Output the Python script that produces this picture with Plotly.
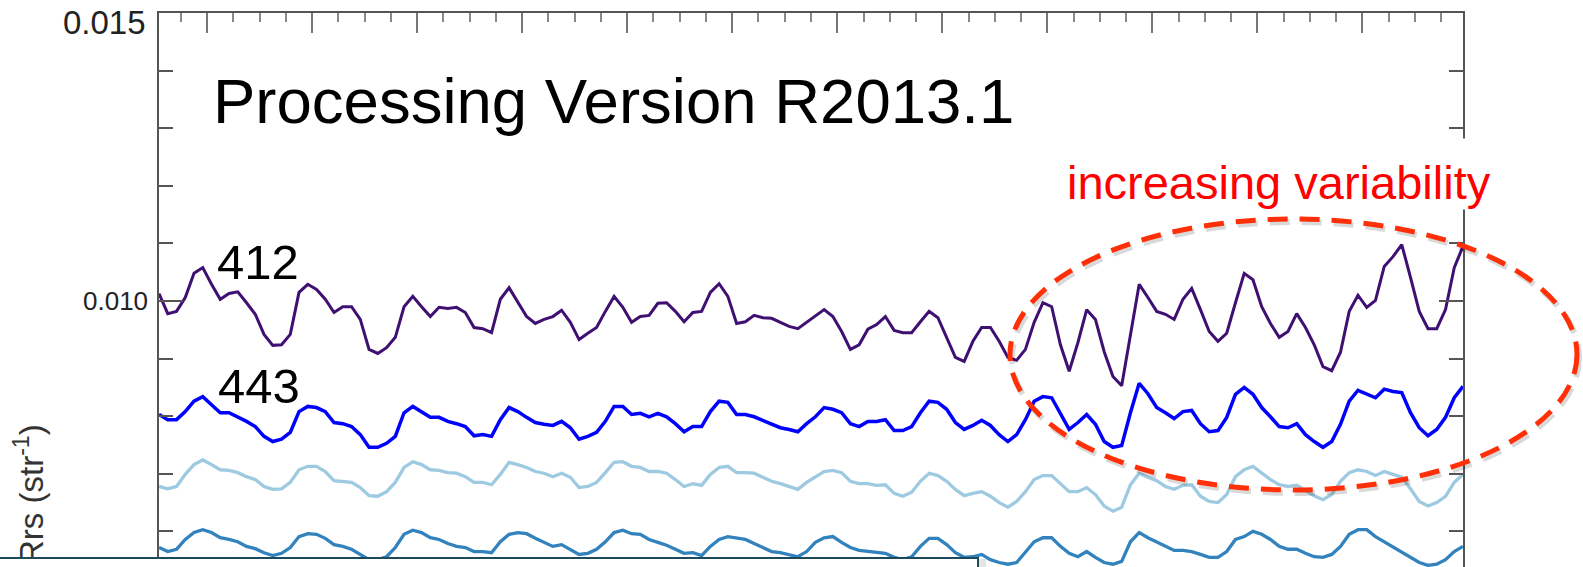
import numpy as np
import plotly.graph_objects as go

# ---------------- data (Rrs in units of 1e-3 sr^-1), monthly from Jul 2002 ----------------
month_index = list(range(150))
decimal_year = [2002 + (m + 6.5) / 12.0 for m in month_index]

rrs412 = [10.13, 9.78, 9.82, 10.06, 10.48, 10.58, 10.29, 10.03, 10.13, 10.16, 9.97, 9.77, 9.42, 9.23, 9.24, 9.42,
          10.15, 10.29, 10.20, 10.03, 9.80, 9.90, 9.90, 9.68, 9.16, 9.09, 9.19, 9.37, 9.90, 10.08, 9.90, 9.73,
          9.89, 9.87, 9.89, 9.80, 9.54, 9.52,
          9.45, 10.03, 10.23, 9.99, 9.73, 9.61, 9.68, 9.73, 9.84, 9.63, 9.33, 9.44, 9.54, 9.82, 10.08, 9.89,
          9.63, 9.73, 9.75, 9.96, 9.97, 9.82, 9.64, 9.80, 9.82, 10.15, 10.30, 10.08, 9.61, 9.64, 9.75, 9.71,
          9.70, 9.63, 9.56, 9.52, 9.63,
          9.73, 9.85, 9.73, 9.47, 9.16, 9.24, 9.51, 9.59, 9.73, 9.49, 9.45, 9.45, 9.64, 9.82, 9.71, 9.37,
          9.02, 8.95, 9.30, 9.54, 9.54, 9.30, 9.02, 8.97, 9.16, 9.63, 9.97, 9.90, 9.24, 8.78, 9.28, 9.85,
          9.68, 9.12, 8.69, 8.53, 9.40,
          10.29, 10.06, 9.82, 9.77, 9.68, 10.03, 10.22, 9.85, 9.47, 9.30, 9.44, 9.97, 10.48, 10.37, 9.90, 9.61,
          9.37, 9.47, 9.78, 9.54, 9.24, 8.86, 8.79, 9.11, 9.82, 10.10, 9.89, 10.01, 10.60, 10.77, 10.98, 10.41,
          9.82, 9.52, 9.52, 9.85, 10.58, 10.95]

rrs443 = [8.03, 7.94, 7.94, 8.08, 8.26, 8.34, 8.20, 8.06, 8.06, 7.99, 7.91, 7.82, 7.65, 7.56, 7.60, 7.72,
          8.08, 8.17, 8.15, 8.08, 7.89, 7.87, 7.82, 7.68, 7.46, 7.46, 7.53, 7.65, 8.06, 8.17, 8.08, 7.98,
          7.98, 7.91, 7.87, 7.82, 7.66, 7.68,
          7.65, 7.94, 8.15, 8.08, 7.98, 7.89, 7.86, 7.84, 7.91, 7.80, 7.60, 7.65, 7.72, 7.91, 8.17, 8.17,
          8.03, 8.05, 7.99, 8.05, 7.99, 7.87, 7.73, 7.82, 7.82, 8.08, 8.26, 8.24, 8.03, 8.03, 7.99, 7.93,
          7.86, 7.80, 7.77, 7.73, 7.87,
          7.99, 8.15, 8.12, 8.06, 7.87, 7.82, 7.91, 7.91, 7.94, 7.75, 7.75, 7.82, 8.06, 8.26, 8.24, 8.12,
          7.89, 7.77, 7.84, 7.93, 7.84, 7.68, 7.56, 7.68, 7.94, 8.26, 8.34, 8.32, 8.03, 7.77, 7.89, 8.03,
          7.86, 7.56, 7.46, 7.49, 8.06,
          8.57, 8.39, 8.15, 8.06, 7.96, 8.08, 8.10, 7.87, 7.73, 7.75, 7.98, 8.38, 8.50, 8.38, 8.15, 7.99,
          7.82, 7.80, 7.87, 7.68, 7.56, 7.46, 7.56, 7.86, 8.26, 8.45, 8.38, 8.32, 8.47, 8.43, 8.41, 8.06,
          7.80, 7.66, 7.77, 7.98, 8.32, 8.52]

rrs490 = [6.78, 6.74, 6.78, 6.99, 7.16, 7.24, 7.16, 7.07, 7.06, 7.02, 6.95, 6.90, 6.78, 6.73, 6.74, 6.85,
          7.07, 7.13, 7.13, 7.04, 6.88, 6.87, 6.85, 6.76, 6.62, 6.61, 6.69, 6.85, 7.11, 7.21, 7.16, 7.07,
          7.06, 7.02, 7.01, 6.95, 6.85, 6.85,
          6.81, 6.99, 7.20, 7.16, 7.11, 7.04, 7.01, 6.95, 7.01, 6.94, 6.76, 6.78, 6.85, 7.02, 7.20, 7.21,
          7.13, 7.11, 7.04, 7.04, 7.01, 6.90, 6.78, 6.83, 6.80, 6.99, 7.11, 7.13, 7.02, 7.02, 7.01, 6.94,
          6.87, 6.83, 6.78, 6.73, 6.85,
          6.94, 7.04, 7.06, 7.02, 6.87, 6.83, 6.83, 6.80, 6.81, 6.66, 6.61, 6.68, 6.87, 7.01, 6.97, 6.87,
          6.73, 6.62, 6.66, 6.69, 6.61, 6.50, 6.42, 6.52, 6.69, 6.90, 6.97, 6.97, 6.83, 6.69, 6.69, 6.76,
          6.64, 6.44, 6.35, 6.42, 6.81,
          7.01, 6.94, 6.88, 6.78, 6.73, 6.80, 6.81, 6.61, 6.52, 6.50, 6.64, 6.95, 7.07, 7.13, 7.02, 6.90,
          6.81, 6.78, 6.80, 6.71, 6.62, 6.55, 6.64, 6.87, 7.02, 7.07, 7.04, 6.97, 7.04, 6.99, 6.94, 6.74,
          6.52, 6.44, 6.50, 6.61, 6.85, 6.99]

rrs510 = [5.72, 5.65, 5.69, 5.86, 5.98, 6.03, 5.98, 5.89, 5.86, 5.82, 5.74, 5.70, 5.63, 5.58, 5.62, 5.72,
          5.91, 5.96, 5.95, 5.88, 5.77, 5.74, 5.69, 5.60, 5.51, 5.51, 5.56, 5.72, 5.95, 6.02, 5.98, 5.89,
          5.86, 5.79, 5.74, 5.72, 5.65, 5.65,
          5.63, 5.82, 5.95, 5.98, 5.96, 5.88, 5.81, 5.74, 5.77, 5.69, 5.60, 5.62, 5.69, 5.82, 5.98, 6.02,
          5.96, 5.95, 5.86, 5.81, 5.76, 5.69, 5.62, 5.63, 5.58, 5.74, 5.86, 5.91, 5.88, 5.86, 5.79, 5.72,
          5.65, 5.63, 5.60, 5.56, 5.65,
          5.81, 5.89, 5.91, 5.81, 5.72, 5.67, 5.65, 5.63, 5.62, 5.55, 5.51, 5.56, 5.74, 5.88, 5.88, 5.77,
          5.63, 5.55, 5.56, 5.60, 5.51, 5.46, 5.43, 5.46, 5.63, 5.82, 5.89, 5.89, 5.74, 5.62, 5.56, 5.65,
          5.55, 5.46, 5.43, 5.48, 5.82,
          5.98, 5.89, 5.82, 5.74, 5.67, 5.67, 5.65, 5.60, 5.55, 5.55, 5.65, 5.86, 5.91, 6.00, 5.95, 5.86,
          5.74, 5.69, 5.69, 5.62, 5.56, 5.55, 5.60, 5.74, 5.95, 6.03, 6.03, 5.91, 5.82, 5.74, 5.65, 5.56,
          5.46, 5.41, 5.43, 5.51, 5.65, 5.74]

series_names = ["510", "490", "443", "412"]
series_values = [rrs510, rrs490, rrs443, rrs412]
series_colors = ["#3282bd", "#9ecae1", "#0000ff", "#3f0f72"]
series_widths = [3.3, 3.3, 3.5, 3]

y_tick_labels = ["0.015", "0.010"]

# ---------------- geometry ----------------
W, H = 1583, 567
L, R, T, B = 159, 120, 13, 0
PW, PH = W - L - R, H - T - B
Y_TOP = 0.015
Y_BOTTOM = Y_TOP - PH / 57600.0


def px(x):
    return (x - L) / PW


def py(y):
    return (H - B - y) / PH


FONT = "Liberation Sans, Arial, Helvetica, sans-serif"

fig = go.Figure()
for name, vals, col, w in zip(series_names, series_values, series_colors, series_widths):
    fig.add_trace(go.Scatter(
        x=decimal_year, y=[v * 1e-3 for v in vals], mode="lines", name=name,
        line=dict(color=col, width=w), hoverinfo="skip"))

fig.update_layout(
    width=W, height=H, margin=dict(l=L, r=R, t=T, b=B, pad=0, autoexpand=False),
    paper_bgcolor="white", plot_bgcolor="white", showlegend=False,
    font=dict(family=FONT, color="#222222"),
)
fig.update_xaxes(
    range=[decimal_year[0], decimal_year[-1]], side="top", showgrid=False, zeroline=False,
    automargin=False, showline=True, linecolor="#555555", linewidth=2,
    showticklabels=False, ticks="inside", tick0=2003, dtick=1, ticklen=20, tickwidth=2,
    tickcolor="#777777",
    minor=dict(ticks="inside", dtick=0.25, tick0=2003, ticklen=9, tickwidth=2, tickcolor="#888888"),
)
fig.update_yaxes(
    range=[Y_BOTTOM, Y_TOP], showgrid=False, zeroline=False, automargin=False,
    showline=True, linecolor="#555555", linewidth=2, mirror="ticks",
    tickmode="linear", tick0=0, dtick=0.005, showticklabels=False,
    ticks="inside", ticklen=24, tickwidth=2, tickcolor="#555555",
    minor=dict(ticks="inside", dtick=0.001, tick0=0, ticklen=14, tickwidth=2, tickcolor="#555555"),
)

# dashed ellipse with soft shadow
fig.add_shape(type="circle", xref="paper", yref="paper",
              x0=px(1012), x1=px(1579), y0=py(493), y1=py(222),
              line=dict(color="rgba(0,0,0,0.15)", width=6, dash="20px,12px"), layer="above")
fig.add_shape(type="circle", xref="paper", yref="paper",
              x0=px(1010), x1=px(1577), y0=py(490), y1=py(219),
              line=dict(color="#ff3008", width=5, dash="20px,12px"), layer="above")
# soft shadow at the right edge of the bottom panel
fig.add_shape(type="rect", xref="paper", yref="paper",
              x0=px(979), x1=px(986), y0=py(567), y1=py(559),
              line=dict(width=0), fillcolor="rgba(0,0,0,0.10)", layer="above")

ann = []
# y tick labels
ann.append(dict(text=y_tick_labels[0], x=px(148), y=py(22.5), xref="paper", yref="paper",
                xanchor="right", yanchor="middle", showarrow=False,
                font=dict(size=33, color="#222222", family=FONT)))
ann.append(dict(text=y_tick_labels[1], x=px(150), y=py(301), xref="paper", yref="paper",
                xanchor="right", yanchor="middle", showarrow=False,
                font=dict(size=26, color="#222222", family=FONT)))
ann.append(dict(text="Rrs (str<sup>-1</sup>)", textangle=-90, x=px(29), y=py(494),
                xref="paper", yref="paper", xanchor="center", yanchor="middle",
                showarrow=False, font=dict(size=33, color="#333333", family=FONT)))
ann.append(dict(text="Processing Version R2013.1", x=px(211), y=py(101),
                xref="paper", yref="paper", xanchor="left", yanchor="middle",
                showarrow=False, font=dict(size=63.5, color="black", family=FONT)))
ann.append(dict(text="412", x=px(215), y=py(262), xref="paper", yref="paper",
                xanchor="left", yanchor="middle", showarrow=False,
                font=dict(size=49, color="black", family=FONT)))
ann.append(dict(text="443", x=px(216), y=py(386), xref="paper", yref="paper",
                xanchor="left", yanchor="middle", showarrow=False,
                font=dict(size=49, color="black", family=FONT)))
ann.append(dict(text="increasing variability", x=px(1066), y=py(138), xref="paper", yref="paper",
                xanchor="left", yanchor="top", showarrow=False, bgcolor="white",
                width=517, height=70, align="left", valign="bottom", borderpad=0,
                font=dict(size=47, color="#ff0000", family=FONT)))
ann.append(dict(text=" ", x=px(-2), y=py(557), xref="paper", yref="paper",
                xanchor="left", yanchor="top", showarrow=False, width=977, height=40,
                bgcolor="white", bordercolor="#1c4a5c", borderwidth=2, borderpad=0,
                font=dict(size=10)))
fig.update_layout(annotations=ann)

fig.write_html("out.html", config={"displayModeBar": False},
               post_script="document.body.style.margin='0';document.body.style.overflow='hidden';")
